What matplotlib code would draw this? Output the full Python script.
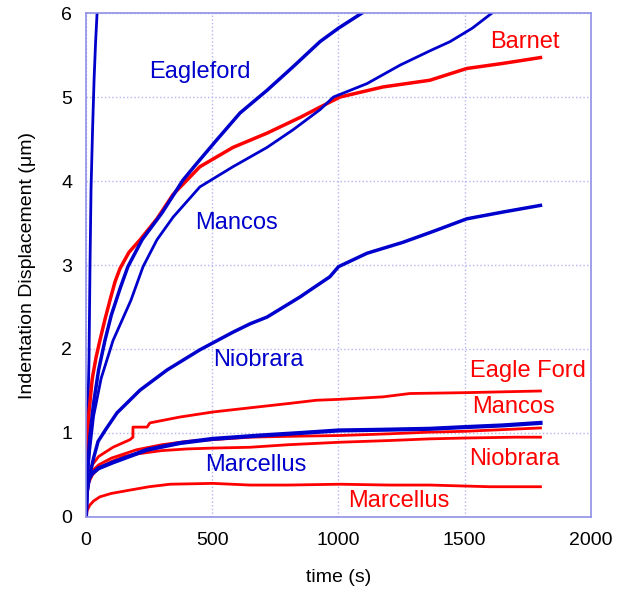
import matplotlib
matplotlib.use("Agg")
import matplotlib.pyplot as plt

plt.rcParams['font.family'] = ['Liberation Sans', 'DejaVu Sans']

BLUE = "#0000cc"
RED = "#ff0000"

# creep curves, time [s] vs indentation displacement [um]
# fast (unlabeled) blue curve
fast_t = [0, 3, 6, 10, 12, 16, 20, 26, 32, 38, 44]
fast_d = [0, 0.6, 1.1, 1.6, 1.87, 3.0, 3.9, 4.6, 5.2, 5.65, 6.0]

eagleford_t = [0, 5, 15, 30, 50, 75, 100, 135, 166, 222, 301, 384, 439, 518, 610, 717, 820, 927, 1000, 1093]
eagleford_d = [0, 0.5, 0.95, 1.35, 1.75, 2.1, 2.4, 2.72, 2.98, 3.3, 3.62, 4.01, 4.21, 4.49, 4.81, 5.08, 5.36, 5.66, 5.82, 6.0]

barnet_t = [0, 5, 12, 25, 40, 55, 75, 95, 115, 135, 170, 214, 281, 345, 451, 582, 717, 850, 927, 1006, 1176, 1362, 1508, 1650, 1800]
barnet_d = [0, 0.75, 1.25, 1.65, 1.9, 2.1, 2.35, 2.58, 2.8, 2.96, 3.15, 3.3, 3.55, 3.84, 4.17, 4.4, 4.57, 4.76, 4.88, 5.0, 5.12, 5.2, 5.34, 5.4, 5.47]

mancos_t = [0, 5, 15, 30, 60, 107, 178, 226, 281, 345, 451, 582, 717, 820, 927, 980, 1113, 1244, 1362, 1442, 1530, 1608]
mancos_d = [0, 0.45, 0.8, 1.2, 1.65, 2.1, 2.58, 2.98, 3.3, 3.57, 3.93, 4.17, 4.4, 4.61, 4.85, 5.0, 5.16, 5.38, 5.55, 5.66, 5.82, 6.0]

niobrara_t = [0, 5, 15, 30, 48, 80, 123, 214, 321, 451, 582, 650, 717, 848, 887, 966, 1000, 1113, 1255, 1375, 1508, 1650, 1800]
niobrara_d = [0, 0.3, 0.5, 0.7, 0.9, 1.05, 1.24, 1.51, 1.75, 1.99, 2.2, 2.3, 2.38, 2.62, 2.7, 2.86, 2.98, 3.14, 3.27, 3.4, 3.55, 3.63, 3.71]

marcellus_t = [0, 3, 10, 25, 50, 107, 242, 372, 503, 689, 850, 1000, 1200, 1362, 1500, 1650, 1800]
marcellus_d = [0, 0.3, 0.45, 0.52, 0.58, 0.65, 0.8, 0.88, 0.93, 0.97, 1.0, 1.03, 1.04, 1.05, 1.07, 1.09, 1.12]

eagle_ford_r_t = [0, 3, 10, 25, 50, 107, 174, 186, 186, 242, 253, 372, 503, 650, 800, 913, 1000, 1176, 1283, 1500, 1800]
eagle_ford_r_d = [0, 0.3, 0.5, 0.62, 0.72, 0.83, 0.92, 0.95, 1.07, 1.07, 1.12, 1.19, 1.25, 1.3, 1.35, 1.39, 1.4, 1.43, 1.47, 1.48, 1.5]

mancos_r_t = [0, 3, 10, 25, 50, 100, 200, 300, 400, 500, 650, 800, 1006, 1200, 1362, 1500, 1650, 1800]
mancos_r_d = [0, 0.3, 0.45, 0.55, 0.62, 0.7, 0.8, 0.86, 0.9, 0.92, 0.95, 0.96, 0.97, 0.99, 1.01, 1.02, 1.04, 1.06]

niobrara_r_t = [0, 3, 10, 25, 50, 100, 150, 200, 300, 400, 500, 650, 800, 1006, 1200, 1362, 1500, 1700, 1800]
niobrara_r_d = [0, 0.25, 0.4, 0.5, 0.58, 0.66, 0.72, 0.75, 0.79, 0.81, 0.82, 0.83, 0.86, 0.89, 0.91, 0.93, 0.94, 0.95, 0.95]

marcellus_r_t = [0, 5, 15, 30, 55, 100, 174, 250, 333, 503, 650, 800, 1006, 1200, 1362, 1600, 1800]
marcellus_r_d = [0, 0.08, 0.14, 0.19, 0.24, 0.28, 0.32, 0.36, 0.39, 0.4, 0.38, 0.38, 0.39, 0.38, 0.38, 0.36, 0.36]

# label text, position (t, d), colour
labels = [
    ("Eagleford", 452, 5.3, BLUE),
    ("Mancos", 598, 3.5, BLUE),
    ("Niobrara", 681, 1.87, BLUE),
    ("Marcellus", 673, 0.62, BLUE),
    ("Barnet", 1739, 5.65, RED),
    ("Eagle Ford", 1750, 1.74, RED),
    ("Mancos", 1692, 1.31, RED),
    ("Niobrara", 1697, 0.69, RED),
    ("Marcellus", 1237, 0.19, RED),
]

fig = plt.figure(figsize=(6.23, 5.96), dpi=100)
ax = fig.add_axes([0.138, 0.1326, 0.8106, 0.8455])

ax.plot(fast_t, fast_d, color=BLUE, lw=2)
ax.plot(marcellus_r_t, marcellus_r_d, color=RED, lw=2)
ax.plot(niobrara_r_t, niobrara_r_d, color=RED, lw=2)
ax.plot(mancos_r_t, mancos_r_d, color=RED, lw=2)
ax.plot(marcellus_t, marcellus_d, color=BLUE, lw=3)
ax.plot(eagle_ford_r_t, eagle_ford_r_d, color=RED, lw=2)
ax.plot(niobrara_t, niobrara_d, color=BLUE, lw=2.5)
ax.plot(barnet_t, barnet_d, color=RED, lw=2.5)
ax.plot(mancos_t, mancos_d, color=BLUE, lw=2)
ax.plot(eagleford_t, eagleford_d, color=BLUE, lw=2.5)

for text, x, y, c in labels:
    ax.text(x, y, text, color=c, fontsize=17, ha="center", va="center")

ax.set_xlim(0, 2000)
ax.set_ylim(0, 6)
ax.set_xticks([0, 500, 1000, 1500, 2000])
ax.set_yticks([0, 1, 2, 3, 4, 5, 6])
ax.grid(True, color="#b4b4f0", linestyle=":", linewidth=1)
for s in ax.spines.values():
    s.set_color("#9090e8")
    s.set_linewidth(1.2)
ax.tick_params(length=0, labelsize=14)
ax.tick_params(axis="x", pad=11)
ax.tick_params(axis="y", pad=10)
ax.set_xlabel("time (s)", fontsize=14, labelpad=14)
ax.set_ylabel("Indentation Displacement (μm)", fontsize=14, labelpad=18)

fig.savefig("out.png", dpi=100)
